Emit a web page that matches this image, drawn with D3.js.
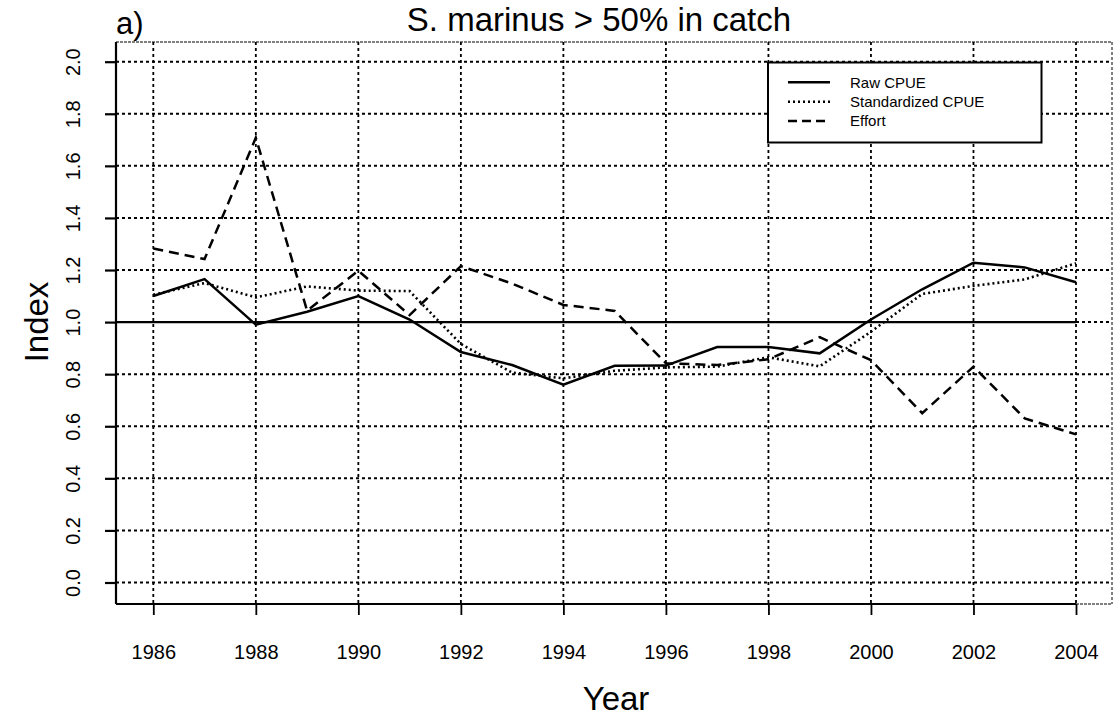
<!DOCTYPE html>
<html>
<head>
<meta charset="utf-8">
<script src="https://cdn.jsdelivr.net/npm/d3@7"></script>
<style>
  html, body { margin: 0; padding: 0; background: #fff; }
  svg { display: block; font-family: "Liberation Sans", Arial, Helvetica, sans-serif; }
</style>
</head>
<body>
<svg id="chart" width="1113" height="717"></svg>
<script>
// ---- data ----
const years = [1986,1987,1988,1989,1990,1991,1992,1993,1994,1995,1996,1997,1998,1999,2000,2001,2002,2003,2004];
const rawCPUE = [1.10,1.165,0.99,1.04,1.10,1.01,0.885,0.835,0.76,0.832,0.833,0.904,0.904,0.88,1.01,1.126,1.228,1.21,1.153];
const stdCPUE = [1.105,1.15,1.095,1.137,1.121,1.119,0.916,0.806,0.784,0.813,0.826,0.829,0.865,0.83,0.963,1.108,1.139,1.164,1.226];
const effort  = [1.283,1.242,1.708,1.044,1.197,1.027,1.215,1.148,1.066,1.043,0.842,0.835,0.857,0.942,0.854,0.65,0.829,0.63,0.569];
const xTicks = [1986,1988,1990,1992,1994,1996,1998,2000,2002,2004];
const yTicks = [0.0,0.2,0.4,0.6,0.8,1.0,1.2,1.4,1.6,1.8,2.0];
const seriesNames = ["Raw CPUE","Standardized CPUE","Effort"];
const titleText = "S. marinus > 50% in catch";
const panelLabel = "a)";
const xLabel = "Year";
const yLabel = "Index";

// ---- layout ----
const box = {left: 116, right: 1112, top: 42, bottom: 604};
const svg = d3.select("#chart");
const x = d3.scaleLinear().domain([1986, 2004]).range([153.3, 1076]);
const y = d3.scaleLinear().domain([0, 2]).range([582.5, 61.7]);

const dashes = ["none", "2,3", "10,6"];
const series = [rawCPUE, stdCPUE, effort];

// grid: horizontal
svg.append("g").selectAll("line").data(yTicks).join("line")
  .attr("x1", box.left).attr("x2", box.right)
  .attr("y1", d => y(d)).attr("y2", d => y(d))
  .attr("stroke", "#000").attr("stroke-width", 2).attr("stroke-dasharray", "3,3");
// grid: vertical
svg.append("g").selectAll("line").data(xTicks).join("line")
  .attr("x1", d => x(d)).attr("x2", d => x(d))
  .attr("y1", box.top).attr("y2", box.bottom)
  .attr("stroke", "#000").attr("stroke-width", 1.8).attr("stroke-dasharray", "3,3");

// box: top and right thin dotted
svg.append("line").attr("x1", box.left).attr("x2", box.right).attr("y1", box.top).attr("y2", box.top)
  .attr("stroke", "#000").attr("stroke-width", 1.2).attr("stroke-dasharray", "3,1");
svg.append("line").attr("x1", box.right).attr("x2", box.right).attr("y1", box.top).attr("y2", box.bottom)
  .attr("stroke", "#000").attr("stroke-width", 1).attr("stroke-dasharray", "3,2");

// reference line at 1.0
svg.append("line").attr("x1", box.left).attr("x2", x(2004)).attr("y1", y(1)).attr("y2", y(1))
  .attr("stroke", "#000").attr("stroke-width", 2.3);

// data lines
const line = d3.line().x((d, i) => x(years[i])).y(d => y(d));
series.forEach((s, k) => {
  svg.append("path").datum(s).attr("d", line)
    .attr("fill", "none").attr("stroke", "#000")
    .attr("stroke-width", k === 1 ? 2.6 : 2.5)
    .attr("stroke-dasharray", dashes[k]);
});

// axes
const xAxis = d3.axisBottom(x).tickValues(xTicks).tickFormat(d3.format("d")).tickSize(11).tickPadding(30).tickSizeOuter(0);
const gx = svg.append("g").attr("transform", `translate(0,${box.bottom})`).call(xAxis);
gx.select(".domain").remove();
gx.selectAll(".tick line").attr("stroke", "#000").attr("stroke-width", 1.8);
gx.selectAll(".tick text").attr("font-size", 20).attr("fill", "#000").attr("font-family", "Liberation Sans, Arial, sans-serif");

const yAxis = d3.axisLeft(y).tickValues(yTicks).tickFormat(d3.format(".1f")).tickSize(11).tickPadding(0).tickSizeOuter(0);
const gy = svg.append("g").attr("transform", `translate(${box.left},0)`).call(yAxis);
gy.select(".domain").remove();
gy.selectAll(".tick line").attr("stroke", "#000").attr("stroke-width", 2.2);
gy.selectAll(".tick text")
  .attr("font-size", 20).attr("fill", "#000").attr("font-family", "Liberation Sans, Arial, sans-serif")
  .attr("x", 0).attr("dy", null)
  .attr("text-anchor", "middle")
  .attr("transform", "translate(-43,0) rotate(-90)")
  .attr("dominant-baseline", "central");

// axis lines (left, bottom)
svg.append("line").attr("x1", box.left).attr("x2", box.left).attr("y1", box.top).attr("y2", box.bottom)
  .attr("stroke", "#000").attr("stroke-width", 2.2);
svg.append("line").attr("x1", box.left).attr("x2", x(2004)).attr("y1", box.bottom).attr("y2", box.bottom)
  .attr("stroke", "#000").attr("stroke-width", 2.2);
svg.append("line").attr("x1", x(2004)).attr("x2", box.right).attr("y1", box.bottom).attr("y2", box.bottom)
  .attr("stroke", "#000").attr("stroke-width", 1).attr("stroke-dasharray", "3,1");

// titles
svg.append("text").attr("x", 599).attr("y", 31).attr("text-anchor", "middle")
  .attr("font-size", 33).text(titleText);
svg.append("text").attr("x", 116).attr("y", 34).attr("text-anchor", "start")
  .attr("font-size", 31).text(panelLabel);
svg.append("text").attr("x", 616).attr("y", 710).attr("text-anchor", "middle")
  .attr("font-size", 33).text(xLabel);
svg.append("text").attr("transform", "translate(48,322) rotate(-90)").attr("text-anchor", "middle")
  .attr("font-size", 33).text(yLabel);

// legend
const lg = {x0: 768, y0: 62.5, x1: 1041.5, y1: 142.5};
svg.append("rect").attr("x", lg.x0).attr("y", lg.y0).attr("width", lg.x1 - lg.x0).attr("height", lg.y1 - lg.y0)
  .attr("fill", "#fff").attr("stroke", "#000").attr("stroke-width", 2);
const legY = d3.scalePoint().domain(seriesNames).range([82.3, 121]);
seriesNames.forEach((n, k) => {
  svg.append("line").attr("x1", 788).attr("x2", 830).attr("y1", legY(n)).attr("y2", legY(n))
    .attr("stroke", "#000").attr("stroke-width", 2.5).attr("stroke-dasharray", k === 2 ? "9,5" : dashes[k]);
  svg.append("text").attr("x", 850).attr("y", legY(n)).attr("dy", "0.35em")
    .attr("font-size", 15).text(n);
});
</script>
</body>
</html>
